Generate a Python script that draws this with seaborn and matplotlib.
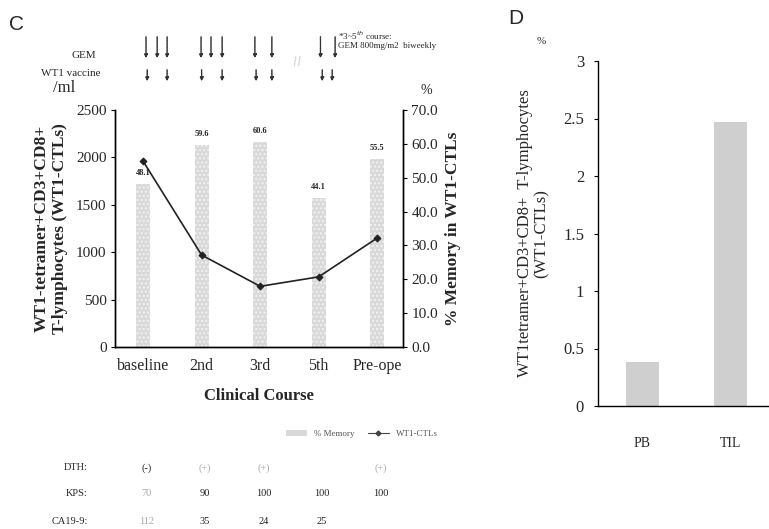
"""Recreate panels C and D: WT1-CTL course and PB vs TIL comparison."""

import matplotlib
matplotlib.use("Agg")
import matplotlib.pyplot as plt
import matplotlib.transforms as mtransforms
from matplotlib.lines import Line2D
from matplotlib.patches import Patch
import numpy as np
import pandas as pd
import seaborn as sns

# panel C data
courses = ["baseline", "2nd", "3rd", "5th", "Pre-ope"]
memory_pct = [48.1, 59.6, 60.6, 44.1, 55.5]
wt1_ctls = [1960, 970, 640, 740, 1150]

# treatment schedule (course units on the x axis)
gem_doses = [0.05, 0.24, 0.41, 0.99, 1.16, 1.35, 1.91, 2.2, 3.03, 3.28]
vaccine_doses = [0.07, 0.41, 1.0, 1.35, 1.93, 2.2, 3.06, 3.23]

# table under panel C
dth = ["(-)", "(+)", "(+)", "", "(+)"]
kps = ["70", "90", "100", "100", "100"]
ca19_9 = ["112", "35", "24", "25", ""]

# panel D data
sites = ["PB", "TIL"]
site_pct = [0.38, 2.47]

W, H = 769, 529
SERIF = ["Liberation Serif", "DejaVu Serif"]
BAR_GREY = "#d9d9d9"


def fx(x):
    return x / W


def fy(y):
    return 1 - y / H


def main() -> None:
    sns.set_theme(style="white")
    plt.rcParams["font.family"] = SERIF
    plt.rcParams["axes.linewidth"] = 1.0
    plt.rcParams["xtick.direction"] = "out"
    plt.rcParams["ytick.direction"] = "out"

    fig = plt.figure(figsize=(W / 100, H / 100), dpi=100)

    # ---------------- panel C ----------------
    ax = fig.add_axes([fx(115), fy(347), fx(403) - fx(115), fy(110) - fy(347)])
    ax2 = ax.twinx()

    df_c = pd.DataFrame({"course": courses, "memory": memory_pct,
                         "ctl": wt1_ctls, "pos": np.arange(len(courses))})

    sns.barplot(data=df_c, x="course", y="memory", ax=ax2, color=BAR_GREY,
                width=0.24, saturation=1, edgecolor="none", hatch="....")
    for p in ax2.patches:
        p.set_edgecolor("#f2f2f2")
        p.set_linewidth(0)
    for i, v in enumerate(memory_pct):
        ax2.annotate(f"{v}", (i, v), xytext=(0, 5), textcoords="offset points",
                     ha="center", va="bottom", fontsize=6, fontweight="bold")

    sns.lineplot(data=df_c, x="pos", y="ctl", ax=ax, color="#222222",
                 marker="D", markersize=3.5, linewidth=1.2,
                 markeredgecolor="#222222")
    ax.set_zorder(ax2.get_zorder() + 1)
    ax.patch.set_visible(False)

    ax.set_xlim(-0.48, 4.44)
    ax.set_ylim(0, 2500)
    ax2.set_ylim(0, 70)
    ax.set_yticks(np.arange(0, 2501, 500))
    ax2.set_yticks(np.arange(0, 71, 10))
    ax2.set_yticklabels([f"{t:.1f}" for t in np.arange(0, 71, 10)])
    ax.set_xticks(np.arange(len(courses)))
    ax.set_xticklabels(courses)
    for a in (ax, ax2):
        a.tick_params(axis="both", labelsize=11, length=3, width=0.8,
                      color="black", pad=3)
        a.spines["top"].set_visible(False)
        for s in ("left", "right", "bottom"):
            a.spines[s].set_color("black")
    ax.tick_params(axis="x", length=0, pad=8, labelsize=11.5)
    ax.tick_params(axis="y", left=True)
    ax2.tick_params(axis="y", right=True)

    ax.set_xlabel("Clinical Course", fontsize=12, fontweight="bold", labelpad=10)
    ax.set_ylabel("WT1-tetramer+CD3+CD8+\nT-lymphocytes (WT1-CTLs)",
                  fontsize=12.5, fontweight="bold", labelpad=6)
    ax2.set_ylabel("% Memory in WT1-CTLs", fontsize=12.5, fontweight="bold",
                   labelpad=5)
    ax2.set_xlabel("")

    fig.text(fx(53), fy(88), "/ml", fontsize=12, ha="left", va="center")
    fig.text(fx(420), fy(90), "%", fontsize=10, ha="left", va="center")
    fig.text(fx(9), fy(24), "C", family=["Liberation Sans"], fontsize=15,
             ha="left", va="center")

    # schedule arrows
    fig.text(fx(96), fy(55), "GEM", fontsize=8, ha="right", va="center")
    fig.text(fx(100), fy(73), "WT1 vaccine", fontsize=8, ha="right", va="center")
    trans = mtransforms.blended_transform_factory(ax.transData, fig.transFigure)
    for x in gem_doses:
        ax.annotate("", xy=(x, fy(61)), xytext=(x, fy(34)), xycoords=trans,
                    textcoords=trans, annotation_clip=False,
                    arrowprops=dict(arrowstyle="-|>", color="#333333", lw=1.0,
                                    linestyle=(0, (1, 0.6)), mutation_scale=5))
    for x in vaccine_doses:
        ax.annotate("", xy=(x, fy(84)), xytext=(x, fy(67)), xycoords=trans,
                    textcoords=trans, annotation_clip=False,
                    arrowprops=dict(arrowstyle="-|>", color="#333333", lw=1.0,
                                    linestyle=(0, (1, 0.6)), mutation_scale=5))
    fig.text(fx(298), fy(63), "//", fontsize=11, color="#bbbbbb",
             ha="center", va="center", rotation=10)
    fig.text(fx(338), fy(36), "*3~5$^{th}$ course:", fontsize=6.5,
             ha="left", va="center")
    fig.text(fx(338), fy(46), "GEM 800mg/m2  biweekly", fontsize=6.5,
             ha="left", va="center")

    # legend
    handles = [Patch(facecolor=BAR_GREY, edgecolor="none", label="% Memory"),
               Line2D([0], [0], color="#444444", marker="D", markersize=2.5,
                      lw=0.8, label="WT1-CTLs")]
    fig.legend(handles=handles, loc="center", ncol=2, frameon=False,
               bbox_to_anchor=(fx(362), fy(434)), fontsize=6.5,
               handlelength=2.4, handleheight=0.6, columnspacing=1.4,
               labelcolor="#555555")

    # table under panel C
    rows = [("DTH:", dth, 468), ("KPS:", kps, 494), ("CA19-9:", ca19_9, 522)]
    faint = {("DTH:", 1), ("DTH:", 2), ("DTH:", 4), ("KPS:", 0), ("CA19-9:", 0)}
    for label, vals, y in rows:
        fig.text(fx(88), fy(y), label, fontsize=7.5, ha="right", va="center")
        for i, v in enumerate(vals):
            color = "#aaaaaa" if (label, i) in faint else "#222222"
            ax.text(i + 0.06, fy(y), v, transform=trans, fontsize=7.5,
                    ha="center", va="center", color=color)

    # ---------------- panel D ----------------
    axd = fig.add_axes([fx(598), fy(406), 1 - fx(598), fy(61) - fy(406)])
    df_d = pd.DataFrame({"site": sites, "pct": site_pct})
    sns.barplot(data=df_d, x="site", y="pct", ax=axd, color="#cfcfcf",
                width=0.375, saturation=1, edgecolor="none")
    axd.set_xlim(-0.5, 1.44)
    axd.set_ylim(0, 3)
    axd.set_yticks([0, 0.5, 1, 1.5, 2, 2.5, 3])
    axd.set_yticklabels(["0", "0.5", "1", "1.5", "2", "2.5", "3"])
    axd.tick_params(axis="y", labelsize=12, length=3, width=0.8,
                    color="black", left=True, pad=7)
    axd.tick_params(axis="x", labelsize=10, length=0, pad=22)
    sns.despine(ax=axd, top=True, right=True)
    for s in ("left", "bottom"):
        axd.spines[s].set_color("black")
    axd.set_xlabel("")
    axd.set_ylabel("WT1tetramer+CD3+CD8+  T-lymphocytes\n(WT1-CTLs)",
                   fontsize=12, labelpad=10, linespacing=1.0)
    fig.text(fx(537), fy(42), "%", fontsize=8, ha="left", va="center")
    fig.text(fx(508), fy(18), "D", family=["Liberation Sans"], fontsize=15,
             ha="left", va="center")

    fig.savefig("out.png", dpi=100)
    plt.close(fig)


if __name__ == "__main__":
    main()
